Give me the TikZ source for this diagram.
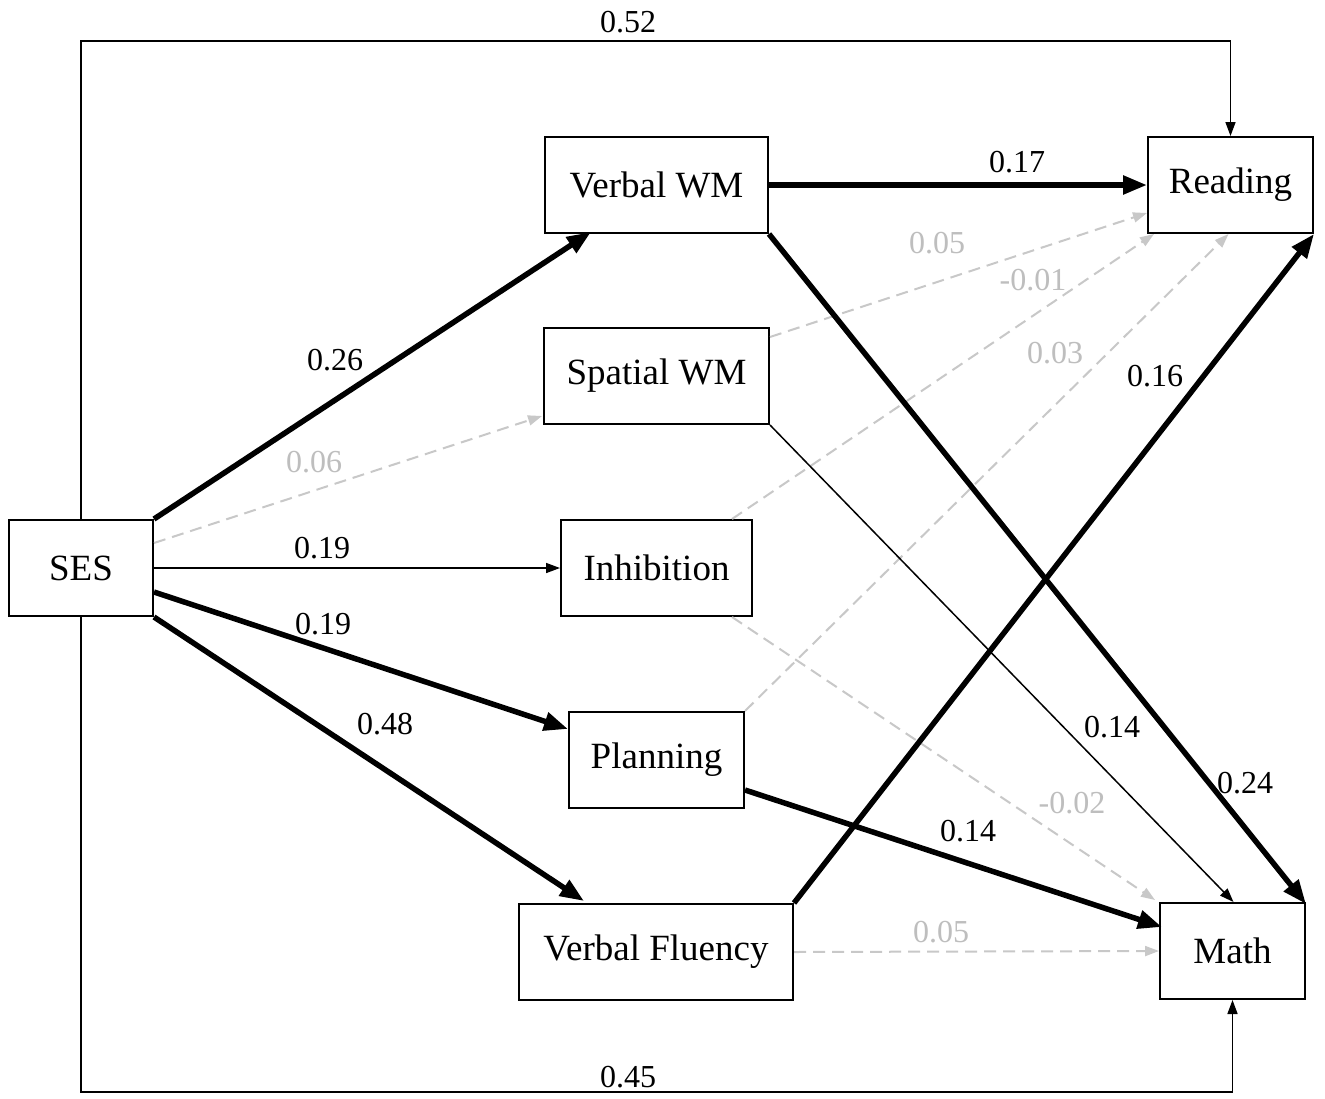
\documentclass[tikz,border=0pt]{standalone}
\usepackage{fontspec}
\setmainfont{Liberation Serif}
\usetikzlibrary{arrows.meta,calc}
\definecolor{lg}{HTML}{C8C8C8}
\definecolor{lgt}{HTML}{BEBEBE}
\begin{document}
\begin{tikzpicture}[x=1pt,y=-1pt,
 box/.style={draw,line width=2pt,inner sep=0pt,minimum height=96pt,font=\fontsize{37}{40}\selectfont},
 lab/.style={font=\fontsize{32}{34}\selectfont,inner sep=0pt},
 glab/.style={lab,text=lgt},
 thickarr/.style={line width=5.5pt,-{Triangle[length=24pt,width=18pt]}},
 thinarr/.style={line width=1.5pt,-{Triangle[length=14pt,width=10pt]}},
 dasharr/.style={line width=2pt,color=lg,dash pattern=on 12pt off 7pt,-{Triangle[length=14pt,width=10pt]}}
]
\useasboundingbox[fill=white] (0,0) rectangle (1325,1098);

\node[box,minimum width=144pt] (ses) at (81,568) {SES};
\node[box,minimum width=223pt] (vwm) at (656.5,185) {Verbal WM};
\node[box,minimum width=225pt] (swm) at (656.5,376) {Spatial WM};
\node[box,minimum width=191pt] (inh) at (656.5,568) {Inhibition};
\node[box,minimum width=175pt] (plan) at (656.5,760) {Planning};
\node[box,minimum width=274pt] (vf) at (656,952) {Verbal Fluency};
\node[box,minimum width=165pt] (read) at (1230.5,185) {Reading};
\node[box,minimum width=145pt] (math) at (1232.5,951) {Math};

\coordinate (top) at (81,41);
\coordinate (bot) at (81,1092);

% dashed (non-significant) paths
\draw[dasharr] ($(ses.east)+(0,-25)$) -- ($(swm.south west)+(-1,-9)$);
\draw[dasharr] ($(swm.north east)+(0,10)$) -- ($(read.south west)+(0,-21)$);
\draw[dasharr] ($(inh.north east)+(-21,0)$) -- ($(read.south west)+(7,0)$);
\draw[dasharr] ($(inh.south east)+(-21,0)$) -- ($(math.north west)+(-4,-2)$);
\draw[dasharr] (plan.north east) -- ($(read.south)+(-2,0)$);
\draw[dasharr] (vf.east) -- (math.west);

% significant paths
\draw[thickarr] (ses.north east) -- ($(vwm.south west)+(47,-2)$);
\draw[thinarr] (ses.east) -- (inh.west);
\draw[thickarr] ($(ses.east)+(0,24)$) -- ($(plan.north west)+(0,18)$);
\draw[thickarr] (ses.south east) -- ($(vf.north west)+(66,-2)$);
\draw[thinarr] (ses.north) -- (top) -| (read.north);
\draw[thinarr] (ses.south) -- (bot) -| (math.south);
\draw[thickarr] (vwm.east) -- (read.west);
\draw[thickarr] (vwm.south east) -- ($(math.north east)+(0,2)$);
\draw[thinarr] (swm.south east) -- ($(math.north)+(1,0)$);
\draw[thickarr] ($(plan.east)+(0,30)$) -- ($(math.north west)+(3,25)$);
\draw[thickarr] (vf.north east) -- (read.south east);

% labels
\node[lab] (l1) at (628,22) {0.52};
\node[lab] (l2) at (628,1077) {0.45};
\node[lab] (l3) at (335,360) {0.26};
\node[glab] (l4) at (314,462) {0.06};
\node[lab] (l5) at (322,548) {0.19};
\node[lab] (l6) at (323,624) {0.19};
\node[lab] (l7) at (385,724) {0.48};
\node[lab] (l8) at (1017,162) {0.17};
\node[glab] (l9) at (937,243) {0.05};
\node[glab] (l10) at (1033,280) {-0.01};
\node[glab] (l11) at (1055,353) {0.03};
\node[lab] (l12) at (1155,376) {0.16};
\node[lab] (l13) at (1112,727) {0.14};
\node[lab] (l14) at (1245,783) {0.24};
\node[glab] (l15) at (1072,803) {-0.02};
\node[lab] (l16) at (968,831) {0.14};
\node[glab] (l17) at (941,932) {0.05};
\end{tikzpicture}
\end{document}
